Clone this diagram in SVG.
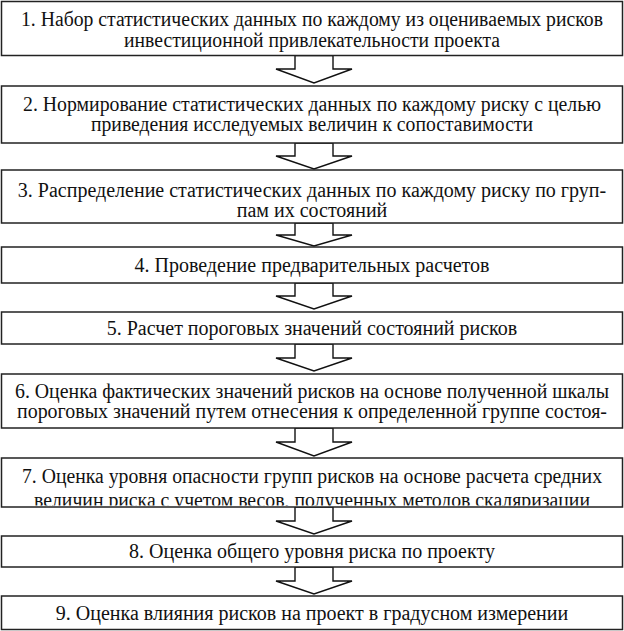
<svg xmlns="http://www.w3.org/2000/svg" width="624" height="631" viewBox="0 0 624 631">
<style>
.box{fill:#fff;stroke:#222;stroke-width:1.5}
.arr{fill:#fff;stroke:#111;stroke-width:1.4;stroke-linejoin:miter}
.t{font-family:"Liberation Serif","DejaVu Serif","Times New Roman",serif;font-size:20px;fill:#111;text-anchor:middle}
</style>
<defs>
<clipPath id="c7"><rect x="0" y="458" width="624" height="47.5"/></clipPath>
</defs>
<rect width="624" height="631" fill="#fff"/>
<g id="connectors">
<polygon class="arr" points="295,55.5 333,55.5 333,69 352,69 314,83 276,69 295,69"/>
<polygon class="arr" points="295,143 333,143 333,156 352,156 314,169 276,156 295,156"/>
<polygon class="arr" points="295,223 333,223 333,235 352,235 314,246 276,235 295,235"/>
<polygon class="arr" points="295,283 333,283 333,296 352,296 314,309 276,296 295,296"/>
<polygon class="arr" points="295,344 333,344 333,358 352,358 314,371 276,358 295,358"/>
<polygon class="arr" points="295,428 333,428 333,442 352,442 314,456 276,442 295,442"/>
<polygon class="arr" points="295,507 333,507 333,521 352,521 314,534 276,521 295,521"/>
<polygon class="arr" points="295,567 333,567 333,581 352,581 314,594 276,581 295,581"/>
</g>
<g id="n1"><rect class="box" x="1.5" y="1.5" width="621" height="54"/>
<text class="t" x="312" y="26" textLength="582" lengthAdjust="spacingAndGlyphs">1. Набор статистических данных по каждому из оцениваемых рисков</text>
<text class="t" x="312" y="47" textLength="376" lengthAdjust="spacingAndGlyphs">инвестиционной привлекательности проекта</text></g>
<g id="n2"><rect class="box" x="1.5" y="86" width="621" height="57"/>
<text class="t" x="312" y="111" textLength="578" lengthAdjust="spacingAndGlyphs">2. Нормирование статистических данных по каждому риску с целью</text>
<text class="t" x="312" y="131" textLength="442" lengthAdjust="spacingAndGlyphs">приведения исследуемых величин к сопоставимости</text></g>
<g id="n3"><rect class="box" x="1.5" y="170" width="621" height="53"/>
<text class="t" x="312" y="197">3. Распределение статистических данных по каждому риску по груп-</text>
<text class="t" x="312" y="217">пам их состояний</text></g>
<g id="n4"><rect class="box" x="1.5" y="247" width="621" height="36"/>
<text class="t" x="312" y="272">4. Проведение предварительных расчетов</text></g>
<g id="n5"><rect class="box" x="1.5" y="312" width="621" height="32"/>
<text class="t" x="312" y="335">5. Расчет пороговых значений состояний рисков</text></g>
<g id="n6"><rect class="box" x="1.5" y="374" width="621" height="54"/>
<text class="t" x="312" y="398" textLength="594" lengthAdjust="spacingAndGlyphs">6. Оценка фактических значений рисков на основе полученной шкалы</text>
<text class="t" x="312" y="418" textLength="590" lengthAdjust="spacingAndGlyphs">пороговых значений путем отнесения к определенной группе состоя-</text></g>
<g id="n7"><rect class="box" x="1.5" y="458" width="621" height="49"/>
<text class="t" x="312" y="483" textLength="580" lengthAdjust="spacingAndGlyphs">7. Оценка уровня опасности групп рисков на основе расчета средних</text>
<text class="t" x="312" y="507" textLength="556" lengthAdjust="spacingAndGlyphs" clip-path="url(#c7)">величин риска с учетом весов, полученных методов скаляризации</text></g>
<g id="n8"><rect class="box" x="1.5" y="536" width="621" height="31"/>
<text class="t" x="312" y="558">8. Оценка общего уровня риска по проекту</text></g>
<g id="n9"><rect class="box" x="1.5" y="596" width="621" height="33.5"/>
<text class="t" x="312" y="620">9. Оценка влияния рисков на проект в градусном измерении</text></g>
</svg>
